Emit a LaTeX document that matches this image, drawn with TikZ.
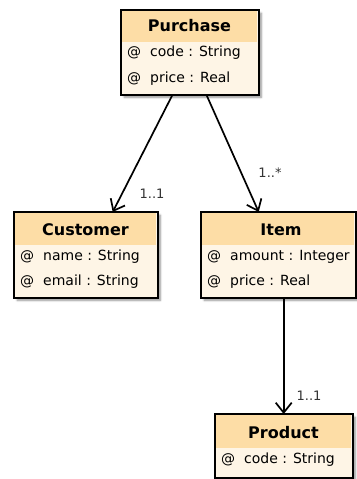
\documentclass[tikz,border=0pt]{standalone}
\usepackage{fontspec}
\setmainfont{DejaVu Sans}
\usetikzlibrary{arrows.meta,shadows.blur}
\definecolor{hdr}{HTML}{FDDDA6}
\definecolor{bdy}{HTML}{FEF5E6}
\definecolor{lbl}{HTML}{333333}
\tikzset{
  classframe/.style={draw=black,line width=1.4pt,fill=bdy,inner sep=0pt,anchor=north west,
    blur shadow={shadow xshift=2.5pt,shadow yshift=-2.5pt,shadow blur steps=6,shadow opacity=45}},
  title/.style={font=\fontsize{16}{16}\selectfont\bfseries,inner sep=0pt},
  attr/.style={font=\fontsize{14}{14}\selectfont,inner sep=0pt,anchor=west},
  assoc/.style={line width=1.7pt,-{Straight Barb[length=10pt,width=16pt,line width=1.7pt]}},
  mult/.style={font=\fontsize{13}{13}\selectfont,text=lbl,inner sep=0pt}
}
% a class box: name, left, top, width, height, header bottom
\newcommand{\classbox}[6]{%
  \node[classframe,minimum width=#4pt,minimum height=#5pt] (#1) at (#2,#3) {};
  \fill[hdr] ([xshift=0.7pt,yshift=-0.7pt]#1.north west) rectangle (#2+#4-0.7,#6);
  \draw[line width=1.4pt] (#1.north west) rectangle (#1.south east);
}
\begin{document}
\begin{tikzpicture}[x=1pt,y=-1pt]
\useasboundingbox (0,0) rectangle (356,479);

% Purchase
\classbox{purchase}{121}{10}{137}{84}{42}
\node[title] (purchaseT) at (189.5,26) {Purchase};
\node[attr] (purchaseA1) at (127,53) {@\hspace{9pt}code : String};
\node[attr] (purchaseA2) at (127,79) {@\hspace{9pt}price : Real};

% Customer
\classbox{customer}{14}{212}{143}{85}{245}
\node[title] (customerT) at (85.5,230) {Customer};
\node[attr] (customerA1) at (20,257) {@\hspace{9pt}name : String};
\node[attr] (customerA2) at (20,282) {@\hspace{9pt}email : String};

% Item
\classbox{item}{201}{212}{154}{85}{245}
\node[title] (itemT) at (281,230) {Item};
\node[attr] (itemA1) at (207,257) {@\hspace{9pt}amount : Integer};
\node[attr] (itemA2) at (207,282) {@\hspace{9pt}price : Real};

% Product
\classbox{product}{215}{414}{137}{63}{448}
\node[title] (productT) at (283.5,433) {Product};
\node[attr] (productA1) at (221,460) {@\hspace{9pt}code : String};

% associations
\draw[assoc] ([xshift=-18pt]purchase.south) -- ([xshift=26.5pt]customer.north);
\draw[assoc] ([xshift=16.5pt]purchase.south) -- ([xshift=-20pt]item.north);
\draw[assoc] ([xshift=5pt]item.south) -- ([xshift=-0.5pt]product.north);

% multiplicities
\node[mult] (m1) at (152,194) {1..1};
\node[mult] (m2) at (270,173) {1..*};
\node[mult] (m3) at (309,396) {1..1};
\end{tikzpicture}
\end{document}
